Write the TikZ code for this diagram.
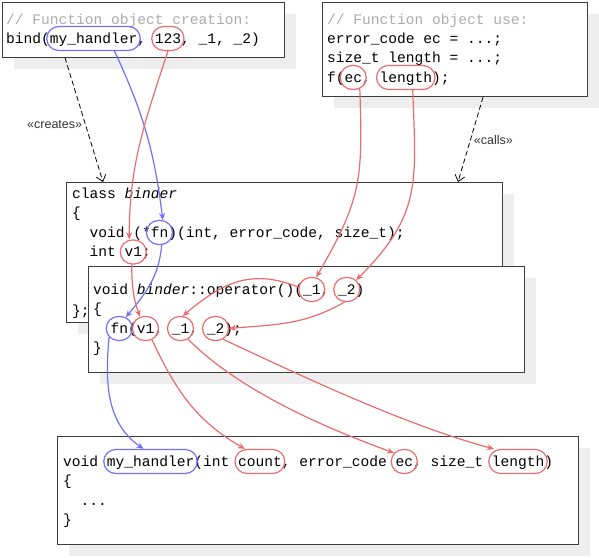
\documentclass[tikz,border=0pt]{standalone}
\usepackage{fontspec}
\setmainfont{Liberation Sans}
\setmonofont{Liberation Mono}
\usetikzlibrary{arrows.meta,calc,shapes.misc,shadows}

\definecolor{hlred}{RGB}{234,108,108}
\definecolor{hlblue}{RGB}{112,112,252}
\definecolor{shadowgray}{RGB}{238,238,238}
\definecolor{commentgray}{RGB}{172,172,172}
\definecolor{framegray}{RGB}{60,60,60}

\newcommand{\codefont}{\fontsize{14.58pt}{19.5pt}\selectfont\ttfamily\frenchspacing}
\newcommand{\charw}{8.75}
% ring over a token: style, name, line node, column, length
\newcommand{\hilite}[5]{\node[#1, minimum width={max(#5*\charw+6,26)}] (#2) at ([shift={({(#4+#5/2)*\charw},4.5)}]#3.base west) {};}

\tikzset{
  codebox/.style={draw=framegray, line width=1.2pt, fill=white, anchor=north west, inner sep=0pt,
    drop shadow={shadow xshift=11.5pt, shadow yshift=-11.5pt, fill=shadowgray, opacity=1}},
  code/.style={anchor=base west, inner sep=0pt, font=\codefont},
  comment/.style={code, text=commentgray},
  hl/.style={rounded rectangle, draw, line width=1.2pt, minimum height=24pt, inner sep=0pt},
  hlr/.style={hl, draw=hlred},
  hlb/.style={hl, draw=hlblue},
  link/.style={line width=1.2pt, -{Stealth[length=7pt,width=6pt]}},
  redlink/.style={link, hlred},
  bluelink/.style={link, hlblue},
  dep/.style={dash pattern=on 5pt off 3pt, line width=0.8pt, -{Straight Barb[length=6pt,width=10pt]}},
  deplabel/.style={font=\fontsize{12.5pt}{14pt}\selectfont, text=black!80, inner sep=3pt}
}

\begin{document}
\begin{tikzpicture}[x=1pt, y=1pt]
    \useasboundingbox (0,0) rectangle (599,-557);

    % Creation of the function object
    \node[codebox, minimum width=282pt, minimum height=55pt] (crbox) at (2,-1.5) {};
    \node[comment] (cr1) at (6,-24) {// Function object creation:};
    \node[code] (cr2) at (6,-43) {bind(my\_handler, 123, \_1, \_2)};
    \hilite{hlb}{hand1}{cr2}{5}{10}
    \hilite{hlr}{num}{cr2}{17}{3}

    % Use of the function object
    \node[codebox, minimum width=265pt, minimum height=94.5pt] (usebox) at (322,-1.5) {};
    \node[comment] (use1) at (327,-24) {// Function object use:};
    \node[code] (use2) at (327,-43.5) {error\_code ec = ...;};
    \node[code] (use3) at (327,-62.5) {size\_t length = ...;};
    \node[code] (use4) at (327,-82) {f(ec, length);};
    \hilite{hlr}{ec1}{use4}{2}{2}
    \hilite{hlr}{len1}{use4}{6}{6}

    % class binder
    \node[codebox, minimum width=436pt, minimum height=140pt] (classbox) at (66,-182) {};
    \node[code] (cls1) at (72,-198) {class \textit{binder}};
    \node[code] (cls2) at (72,-217.5) {\{};
    \node[code] (cls3) at (89.5,-237) {void (*fn)(int, error\_code, size\_t);};
    \node[code] (cls4) at (89.5,-256.5) {int v1;};
    \node[code] (cls7) at (72,-315) {\};};
    \hilite{hlb}{fn1}{cls3}{7}{2}
    \hilite{hlr}{v1a}{cls4}{4}{2}

    % binder::operator()
    \node[codebox, minimum width=436pt, minimum height=106pt] (opbox) at (88,-266) {};
    \node[code] (op1) at (93,-294) {void \textit{binder}::operator()(\_1, \_2)};
    \node[code] (op2) at (93,-313.5) {\{};
    \node[code] (op3) at (110.5,-333) {fn(v1, \_1, \_2);};
    \node[code] (op4) at (93,-352.5) {\}};
    \hilite{hlr}{p1}{op1}{24}{2}
    \hilite{hlr}{p2}{op1}{28}{2}
    \hilite{hlb}{fn2}{op3}{0}{2}
    \hilite{hlr}{v1b}{op3}{3}{2}
    \hilite{hlr}{a1}{op3}{7}{2}
    \hilite{hlr}{a2}{op3}{11}{2}

    % the handler
    \node[codebox, minimum width=521pt, minimum height=108pt] (handbox) at (57,-436) {};
    \node[code] (h1) at (63,-466) {void my\_handler(int count, error\_code ec, size\_t length)};
    \node[code] (h2) at (63,-485.5) {\{};
    \node[code] (h3) at (80.5,-505) {...};
    \node[code] (h4) at (63,-524.5) {\}};
    \hilite{hlb}{hand2}{h1}{5}{10}
    \hilite{hlr}{cnt}{h1}{20}{5}
    \hilite{hlr}{ec2}{h1}{38}{2}
    \hilite{hlr}{len2}{h1}{49}{6}

    % dependencies
    \draw[dep] ([xshift=63pt]crbox.south west) -- node[deplabel, left, pos=.54] {«creates»} ([xshift=37pt]classbox.north west);
    \draw[dep] ([xshift=161pt]usebox.south west) -- node[deplabel, right, pos=.5] {«calls»} ([xshift=392pt]classbox.north west);

    % handler pointer
    \draw[bluelink] ([xshift=21pt]hand1.south) to[out=-65, in=97] (fn1.75);
    \draw[bluelink] (fn1.-80) to[out=-95, in=50] (fn2.60);
    \draw[bluelink] (fn2.-140) to[out=-95, in=145] ([xshift=-7pt]hand2.north);

    % bound value
    \draw[redlink] (num.south) to[out=-108, in=90] ([xshift=-4pt]v1a.north);
    \draw[redlink] ([xshift=-1.5pt]v1a.south) to[out=-90, in=110] (v1b.115);
    \draw[redlink] (v1b.-60) to[out=-65, in=150] ([xshift=-15pt]cnt.north);

    % call arguments
    \draw[redlink] (ec1.-60) to[out=-88, in=60, looseness=1.2] (p1.70);
    \draw[redlink] ([xshift=7pt]len1.south) to[out=-88, in=45, looseness=1.2] (p2.45);
    \draw[redlink] (p1.170) to[out=158, in=40, looseness=1.1] (a1.80);
    \draw[redlink] (p2.-100) to[out=-150, in=5] (a2.east);
    \draw[redlink] (a1.-55) to[out=-45, in=160, looseness=.8] (ec2.140);
    \draw[redlink] (a2.-55) to[out=-25, in=165, looseness=.8] ([xshift=-24pt]len2.north);
\end{tikzpicture}
\end{document}
